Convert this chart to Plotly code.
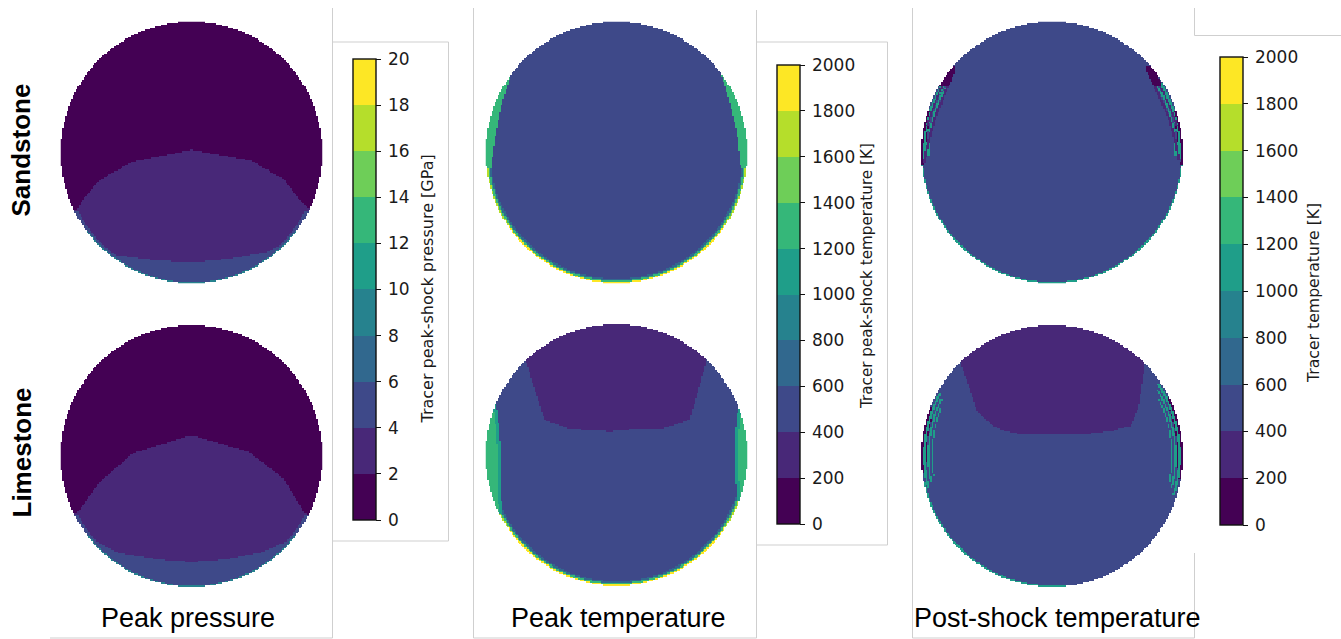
import numpy as np
import plotly.graph_objects as go

W, H = 1341, 639

# ---------------------------------------------------------------- colour levels
viridis_bins = ["#440154", "#482878", "#3e4989", "#31688e", "#26828e",
                "#1f9e89", "#35b779", "#6ece58", "#b5de2b", "#fde725"]
pressure_ticks = [0, 2, 4, 6, 8, 10, 12, 14, 16, 18, 20]                 # GPa
temperature_ticks = [0, 200, 400, 600, 800, 1000, 1200, 1400, 1600, 1800, 2000]  # K

row_labels = ["Sandstone", "Limestone"]
column_labels = ["Peak pressure", "Peak temperature", "Post-shock temperature"]
colorbar_titles = ["Tracer peak-shock pressure [GPa]",
                   "Tracer peak-shock temperature [K]",
                   "Tracer temperature [K]"]

# ---------------------------------------------------------------- zone outlines
# coordinates are in units of the projectile radius, origin at its centre

# Sandstone, peak pressure: top of the 2-4 GPa dome and of the 4-6 GPa base layer
ss_pres_dome_u = [-1.00, -0.87, -0.83, -0.70, -0.45, 0.00, 0.45, 0.70, 0.85, 1.00]
ss_pres_dome_v = [-0.50, -0.43, -0.36, -0.21, -0.07, 0.02, -0.06, -0.20, -0.39, -0.50]
ss_pres_base_u = [-1.00, -0.78, -0.57, -0.30, 0.00, 0.30, 0.57, 0.75, 1.00]
ss_pres_base_v = [-0.55, -0.64, -0.785, -0.82, -0.84, -0.81, -0.76, -0.67, -0.55]

# Limestone, peak pressure
ls_pres_dome_u = [-1.00, -0.87, -0.70, -0.45, 0.00, 0.44, 0.70, 0.86, 1.00]
ls_pres_dome_v = [-0.50, -0.43, -0.20, 0.02, 0.16, 0.03, -0.17, -0.43, -0.50]
ls_pres_base_u = [-1.00, -0.80, -0.55, -0.25, 0.00, 0.25, 0.55, 0.76, 1.00]
ls_pres_base_v = [-0.55, -0.62, -0.74, -0.79, -0.81, -0.79, -0.73, -0.64, -0.55]

# Sandstone, peak temperature: inner edge of the hot flanks (1200-1400 K)
ss_tpk_left_v = [-0.12, 0.15, 0.40, 0.60]
ss_tpk_left_u = [-0.96, -0.92, -0.87, -0.80]
ss_tpk_right_v = [-0.12, 0.15, 0.40, 0.60]
ss_tpk_right_u = [0.95, 0.92, 0.86, 0.80]

# Limestone, peak temperature: cool cap (200-400 K) and hot flanks
ls_tpk_cap_u = [-1.00, -0.70, -0.69, -0.55, -0.36, -0.05, 0.15, 0.35, 0.56, 0.685, 0.695, 1.00]
ls_tpk_cap_v = [1.50, 1.50, 0.71, 0.27, 0.20, 0.18, 0.20, 0.20, 0.27, 0.71, 1.50, 1.50]
ls_tpk_left_v = [-0.45, -0.30, 0.00, 0.25, 0.40]
ls_tpk_left_u = [-0.87, -0.88, -0.88, -0.90, -0.92]
ls_tpk_right_v = [-0.35, -0.20, 0.00, 0.20, 0.37]
ls_tpk_right_u = [0.92, 0.91, 0.91, 0.91, 0.93]

# Sandstone, post-shock temperature: shear arcs along the flanks
ss_tpost_left_v = [-0.08, 0.10, 0.27, 0.45, 0.62]
ss_tpost_left_u = [-0.97, -0.93, -0.88, -0.81, -0.74]
ss_tpost_right_v = [-0.06, 0.10, 0.27, 0.45, 0.62]
ss_tpost_right_u = [0.96, 0.93, 0.88, 0.80, 0.72]

# Limestone, post-shock temperature: cool cap
ls_tpost_cap_u = [-1.00, -0.70, -0.69, -0.565, -0.42, -0.25, 0.00, 0.25, 0.45, 0.60, 0.66, 0.71, 0.72, 1.00]
ls_tpost_cap_v = [1.50, 1.50, 0.69, 0.33, 0.21, 0.165, 0.16, 0.165, 0.19, 0.23, 0.37, 0.69, 1.50, 1.50]

# ---------------------------------------------------------------- grid
N = 170
cell = 2.0 / N
centres = np.linspace(-1 + cell / 2, 1 - cell / 2, N)
U, V = np.meshgrid(centres, centres)
RAD = np.hypot(U, V)
INSIDE = RAD <= 1.0
EDGE = np.sqrt(np.clip(1 - V ** 2, 0, None))


def below(us, vs):
    return V < np.interp(U, us, vs)


def above(us, vs):
    return V > np.interp(U, us, vs)


def left_of(vs, us):
    return (U < np.interp(V, vs, us)) & (V >= vs[0]) & (V <= vs[-1])


def right_of(vs, us):
    return (U > np.interp(V, vs, us)) & (V >= vs[0]) & (V <= vs[-1])


def edge_strip(d0, d1, v_lo, v_hi, side):
    """Cells lying between d0 and d1 (horizontal distance) inside the flank."""
    in_v = (V >= v_lo) & (V <= v_hi)
    dist = (U + EDGE) if side < 0 else (EDGE - U)
    return (dist >= d0) & (dist < d1) & in_v


def hot_rim(b):
    low = V < -0.10
    b[low & (RAD > 0.965)] = 3
    b[low & (RAD > 0.978)] = 6
    b[(V < -0.55) & (RAD > 0.99)] = 9
    b[(V >= -0.55) & low & (RAD > 0.99)] = 8
    return b


def ss_pressure():
    b = np.zeros_like(U, dtype=int)
    b[below(ss_pres_dome_u, ss_pres_dome_v)] = 1
    b[below(ss_pres_base_u, ss_pres_base_v)] = 2
    b[(V < -0.45) & (RAD > 0.975)] = 2
    b[(V < -0.60) & (RAD > 0.992)] = 4
    return b


def ls_pressure():
    b = np.zeros_like(U, dtype=int)
    b[below(ls_pres_dome_u, ls_pres_dome_v)] = 1
    b[below(ls_pres_base_u, ls_pres_base_v)] = 2
    b[(V < -0.45) & (RAD > 0.975)] = 2
    b[(V < -0.60) & (RAD > 0.992)] = 4
    return b


def ss_peak_temp():
    b = np.full_like(U, 2, dtype=int)
    b = hot_rim(b)
    b[left_of(ss_tpk_left_v, ss_tpk_left_u)] = 6
    b[right_of(ss_tpk_right_v, ss_tpk_right_u)] = 6
    return b


def ls_peak_temp():
    b = np.full_like(U, 2, dtype=int)
    b[above(ls_tpk_cap_u, ls_tpk_cap_v)] = 1
    b = hot_rim(b)
    left = left_of(ls_tpk_left_v, ls_tpk_left_u)
    right = right_of(ls_tpk_right_v, ls_tpk_right_u)
    b[left] = 6
    b[right] = 6
    b[left & (U > np.interp(V, ls_tpk_left_v, ls_tpk_left_u) - 0.025)] = 5
    b[right & (U < np.interp(V, ls_tpk_right_v, ls_tpk_right_u) + 0.025)] = 5
    return b


def ss_post_temp():
    b = np.full_like(U, 2, dtype=int)
    lu = np.interp(V, ss_tpost_left_v, ss_tpost_left_u)
    ru = np.interp(V, ss_tpost_right_v, ss_tpost_right_u)
    lv = (V >= ss_tpost_left_v[0]) & (V <= ss_tpost_left_v[-1])
    rv = (V >= ss_tpost_right_v[0]) & (V <= ss_tpost_right_v[-1])
    # heated material close to the flank surface
    for side in (-1, 1):
        b[edge_strip(0.010, 0.040, -0.05, 0.55, side)] = 5
        b[edge_strip(0.050, 0.065, -0.02, 0.50, side)] = 5
        b[edge_strip(0.000, 0.015, -0.10, 0.32, side)] = 0
        b[edge_strip(0.030, 0.038, 0.05, 0.30, side)] = 0
    # purple shear arcs
    b[lv & (U < lu) & (U > lu - 0.02)] = 1
    b[rv & (U > ru) & (U < ru + 0.02)] = 1
    b[lv & (U < lu - 0.045) & (U > lu - 0.06) & (V > 0.2)] = 1
    b[rv & (U > ru + 0.045) & (U < ru + 0.06) & (V > 0.2)] = 1
    # dark wedges at the top of the arcs
    b[(V > 0.50) & (V < 0.66) & (U < lu) & (U > lu - 0.07)] = 0
    b[(V > 0.50) & (V < 0.66) & (U > ru) & (U < ru + 0.07)] = 0
    b[(V < -0.10) & (RAD > 0.99)] = 5
    return b


def ls_post_temp():
    b = np.full_like(U, 2, dtype=int)
    b[above(ls_tpost_cap_u, ls_tpost_cap_v)] = 1
    for side, lo, hi in ((-1, -0.25, 0.48), (1, -0.30, 0.55)):
        b[edge_strip(0.015, 0.035, lo, hi, side)] = 5
        b[edge_strip(0.050, 0.065, lo + 0.05, hi - 0.05, side)] = 5
        b[edge_strip(0.080, 0.090, lo + 0.10, hi - 0.12, side)] = 5
        b[edge_strip(0.000, 0.015, lo + 0.12, hi - 0.10, side)] = 0
        b[edge_strip(0.035, 0.042, lo + 0.20, hi - 0.20, side)] = 0
    b[(V < -0.20) & (U < 0.1) & (RAD > 0.988)] = 5
    return b


def to_values(bins, levels):
    step = levels[1] - levels[0]
    z = levels[0] + (bins + 0.5) * step
    return np.where(INSIDE, z, np.nan)


fields = [
    [to_values(ss_pressure(), pressure_ticks),
     to_values(ss_peak_temp(), temperature_ticks),
     to_values(ss_post_temp(), temperature_ticks)],
    [to_values(ls_pressure(), pressure_ticks),
     to_values(ls_peak_temp(), temperature_ticks),
     to_values(ls_post_temp(), temperature_ticks)],
]

# ---------------------------------------------------------------- layout geometry (px)
disc_r = 131.0
disc_cx = [191.5, 616.5, 1052.0]
disc_cy = [[152.5, 152.5, 152.5], [456.0, 455.0, 456.0]]
cbar_left = [353, 777, 1220]
cbar_top = [59, 65, 57]
cbar_bottom = [520, 524, 525]
cbar_title_x = [427, 867, 1313]
cbar_title_y = [289.5, 276.0, 293.0]
cbar_title_size = [16, 15.2, 15.7]


def stepped_scale(colors):
    n = len(colors)
    scale = []
    for i, c in enumerate(colors):
        scale.append([i / n, c])
        scale.append([(i + 1) / n, c])
    return scale


fig = go.Figure()
layout_axes = {}
k = 0
for r in range(2):
    for c in range(3):
        k += 1
        sx = "" if k == 1 else str(k)
        cx, cy = disc_cx[c], disc_cy[r][c]
        fig.add_trace(go.Heatmap(
            x=centres, y=centres, z=fields[r][c],
            coloraxis="coloraxis" + ("" if c == 0 else str(c + 1)),
            xaxis="x" + sx, yaxis="y" + sx, hoverinfo="skip"))
        layout_axes["xaxis" + sx] = dict(
            domain=[(cx - disc_r) / W, (cx + disc_r) / W], range=[-1, 1],
            visible=False, fixedrange=True, anchor="y" + sx)
        layout_axes["yaxis" + sx] = dict(
            domain=[1 - (cy + disc_r) / H, 1 - (cy - disc_r) / H], range=[-1, 1],
            visible=False, fixedrange=True, anchor="x" + sx)

tick_sets = [pressure_ticks, temperature_ticks, temperature_ticks]
coloraxes = {}
for c in range(3):
    ticks = tick_sets[c]
    name = "coloraxis" + ("" if c == 0 else str(c + 1))
    coloraxes[name] = dict(
        colorscale=stepped_scale(viridis_bins), cmin=ticks[0], cmax=ticks[-1],
        colorbar=dict(
            thickness=23, thicknessmode="pixels",
            len=cbar_bottom[c] - cbar_top[c], lenmode="pixels",
            x=cbar_left[c] / W, xanchor="left", xpad=0,
            y=1 - (cbar_top[c] + cbar_bottom[c]) / 2 / H, yanchor="middle", ypad=0,
            outlinewidth=1.4, outlinecolor="#111111",
            tickmode="array", tickvals=ticks,
            ticktext=["\u2009" + str(t) for t in ticks],
            ticks="outside", ticklen=5, tickwidth=1, tickcolor="#111111",
            tickfont=dict(family="DejaVu Sans", size=17, color="#1a1a1a"),
            bgcolor="rgba(0,0,0,0)", borderwidth=0))

annotations = []
row_label_y = [150.5, 452.5]
for r, lab in enumerate(row_labels):
    annotations.append(dict(
        text="<b>%s</b>" % lab, x=21 / W, y=1 - row_label_y[r] / H,
        xref="paper", yref="paper", showarrow=False, textangle=-90,
        font=dict(family="Liberation Sans, Arial, sans-serif", size=26, color="#000000"),
        xanchor="center", yanchor="middle"))
col_label_x = [188, 618, 1057]
for c, lab in enumerate(column_labels):
    annotations.append(dict(
        text=lab, x=col_label_x[c] / W, y=1 - 618 / H,
        xref="paper", yref="paper", showarrow=False,
        font=dict(family="Liberation Sans, Arial, sans-serif", size=27, color="#000000"),
        xanchor="center", yanchor="middle"))
for c, lab in enumerate(colorbar_titles):
    annotations.append(dict(
        text=lab, x=cbar_title_x[c] / W, y=1 - cbar_title_y[c] / H,
        xref="paper", yref="paper", showarrow=False, textangle=-90,
        font=dict(family="DejaVu Sans", size=cbar_title_size[c], color="#1a1a1a"),
        xanchor="center", yanchor="middle"))

# thin grey panel frames
frame_segments = [
    (332.5, 8, 332.5, 638), (50, 638, 332.5, 638),
    (332.5, 42, 448.5, 42), (448.5, 42, 448.5, 541), (332.5, 541, 448.5, 541),
    (473.5, 8, 473.5, 638), (473.5, 638, 756.5, 638),
    (756.5, 10, 756.5, 638),
    (756.5, 42, 887.5, 42), (887.5, 42, 887.5, 545), (756.5, 545, 887.5, 545),
    (912.5, 8, 912.5, 638), (912.5, 638, 1194.5, 638),
    (1194.5, 553, 1194.5, 638),
    (1194.5, 8, 1194.5, 35.5), (1194.5, 35.5, 1341, 35.5),
]
shapes = [dict(type="line", xref="paper", yref="paper",
               x0=x0 / W, y0=1 - y0 / H, x1=x1 / W, y1=1 - y1 / H,
               line=dict(color="#cfcfcf", width=1), layer="below")
          for x0, y0, x1, y1 in frame_segments]

fig.update_layout(
    width=W, height=H, autosize=False,
    margin=dict(l=0, r=0, t=0, b=0),
    paper_bgcolor="white", plot_bgcolor="rgba(0,0,0,0)",
    showlegend=False,
    annotations=annotations, shapes=shapes,
    **layout_axes, **coloraxes)

fig.write_html("out.html", config=dict(displayModeBar=False))
